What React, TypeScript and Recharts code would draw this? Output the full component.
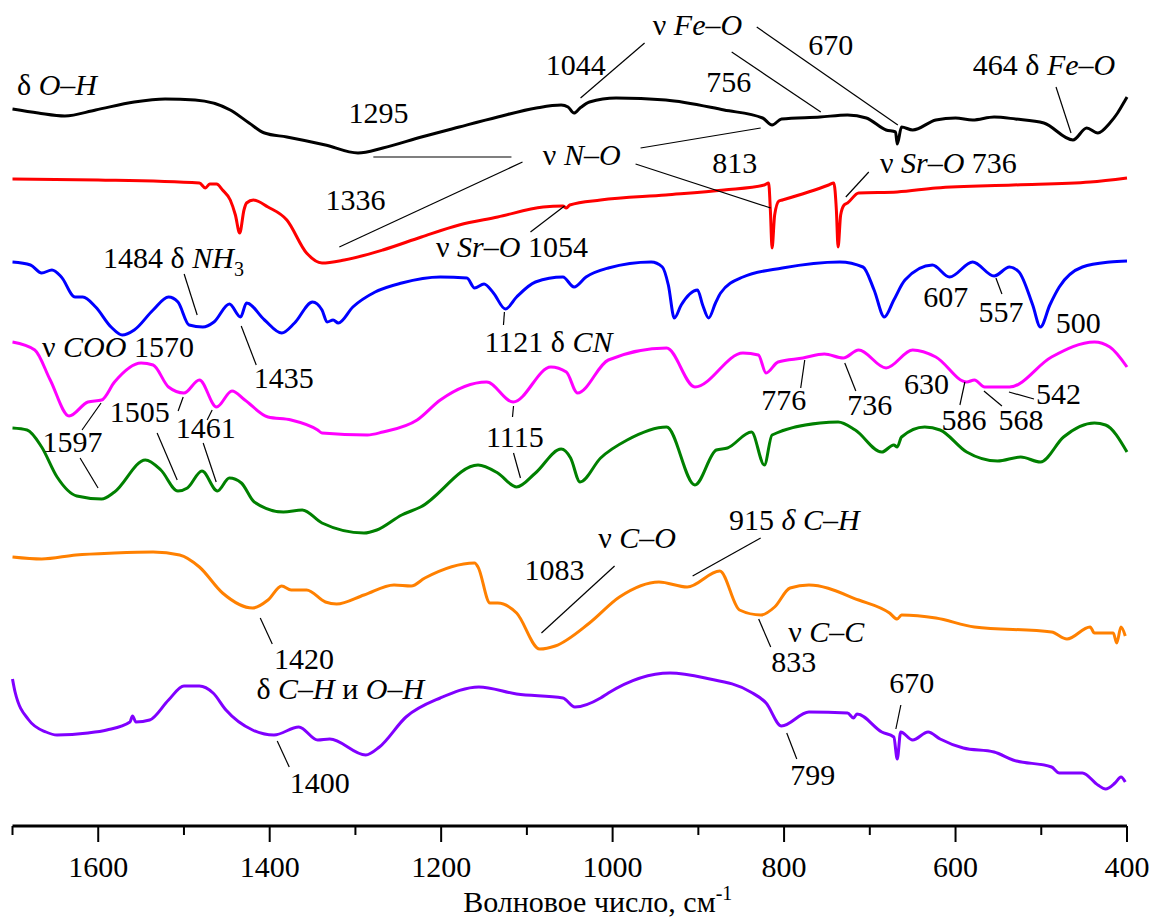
import React from 'react'
import { LineChart, Line, XAxis, YAxis, ReferenceLine, ReferenceDot, Label } from 'recharts'

const FONT = 'Liberation Serif, DejaVu Serif, Times New Roman, serif'

// spectra: [wavenumber cm-1, stacked signal (grows downward)]
const black = [
  [1700, 109], [1670, 113], [1639, 116], [1603, 110], [1558, 102], [1522, 99], [1487, 100],
  [1446, 110], [1424, 123], [1406, 133], [1380, 137], [1335, 145], [1297, 153], [1268, 148],
  [1223, 137], [1179, 127], [1134, 117], [1089, 108], [1060, 105], [1052, 107], [1045, 113],
  [1038, 108], [1027, 102], [996, 98], [938, 100], [870, 110], [825, 118], [814, 125],
  [803, 119], [758, 117], [726, 115], [704, 118], [681, 130], [670, 132], [668, 144],
  [663, 127], [650, 130], [623, 120], [600, 118], [580, 120], [555, 117], [530, 119],
  [497, 123], [463, 140], [447, 128], [434, 133], [420, 123], [411, 113], [402, 100], [400, 97],
]
const red = [
  [1700, 179], [1600, 180], [1482, 183], [1475, 188], [1470, 184], [1462, 184], [1455, 190],
  [1446, 200], [1440, 215], [1435, 233], [1430, 210], [1427, 203], [1419, 200], [1402, 207],
  [1380, 220], [1357, 253], [1339, 263], [1313, 260], [1268, 250], [1223, 237], [1179, 225],
  [1134, 217], [1081, 207], [1058, 206], [1054, 208], [1050, 205], [1014, 200], [938, 195],
  [870, 190], [823, 185], [818, 183], [816, 210], [814, 248], [811, 215], [806, 201],
  [802, 200], [748, 185], [742, 183], [739, 210], [737, 247], [734, 215], [730, 205],
  [726, 203], [713, 193], [668, 192], [623, 188], [533, 185], [443, 182], [400, 178],
]
const blue = [
  [1700, 262], [1679, 265], [1666, 273], [1654, 270], [1643, 277], [1627, 297], [1618, 297],
  [1603, 307], [1585, 327], [1572, 335], [1558, 330], [1536, 310], [1518, 297], [1507, 302],
  [1494, 325], [1478, 327], [1465, 322], [1447, 304], [1434, 317], [1427, 303], [1406, 320],
  [1386, 333], [1371, 323], [1350, 302], [1339, 310], [1333, 322], [1326, 320], [1320, 323],
  [1303, 307], [1277, 292], [1246, 283], [1201, 277], [1170, 278], [1161, 288], [1150, 284],
  [1139, 293], [1125, 309], [1112, 297], [1090, 282], [1058, 277], [1045, 287], [1031, 277],
  [1005, 268], [955, 262], [942, 267], [935, 285], [928, 318], [920, 305], [901, 290],
  [895, 305], [888, 318], [880, 303], [874, 293], [848, 277], [802, 268], [735, 262],
  [708, 267], [695, 290], [683, 317], [672, 300], [659, 280], [627, 265], [607, 277],
  [580, 262], [555, 276], [537, 267], [526, 272], [510, 305], [501, 327], [490, 305],
  [479, 287], [452, 267], [420, 262], [400, 261],
]
const magenta = [
  [1700, 342], [1674, 350], [1656, 380], [1634, 416], [1612, 402], [1596, 400], [1581, 382],
  [1550, 363], [1536, 365], [1518, 387], [1500, 393], [1482, 380], [1462, 407], [1444, 391],
  [1429, 400], [1402, 417], [1375, 420], [1344, 430], [1339, 433], [1286, 435], [1268, 432],
  [1228, 420], [1201, 400], [1147, 382], [1116, 402], [1072, 367], [1054, 372], [1041, 393],
  [1005, 360], [937, 348], [904, 387], [848, 353], [830, 355], [821, 373], [807, 362],
  [778, 358], [753, 354], [731, 358], [713, 350], [681, 368], [650, 350], [623, 357],
  [587, 382], [578, 380], [566, 387], [537, 387], [488, 357], [438, 342], [420, 347], [400, 367],
]
const green = [
  [1700, 428], [1683, 430], [1666, 447], [1648, 477], [1625, 496], [1596, 499], [1581, 492],
  [1545, 460], [1527, 470], [1507, 491], [1496, 488], [1479, 471], [1461, 491], [1447, 478],
  [1433, 483], [1418, 502], [1384, 512], [1362, 510], [1339, 523], [1290, 533], [1275, 530],
  [1246, 515], [1224, 507], [1157, 465], [1134, 473], [1112, 487], [1090, 473], [1060, 449],
  [1049, 458], [1038, 482], [1014, 458], [983, 440], [937, 427], [904, 485], [879, 450],
  [866, 448], [838, 432], [823, 465], [814, 435], [758, 423], [737, 422], [717, 430],
  [686, 452], [672, 445], [668, 447], [663, 437], [636, 427], [618, 430], [587, 452],
  [551, 461], [524, 457], [501, 462], [474, 437], [438, 423], [425, 425], [400, 452],
]
const orange = [
  [1700, 557], [1666, 559], [1626, 555], [1581, 553], [1536, 552], [1505, 555], [1482, 567],
  [1455, 593], [1420, 608], [1402, 600], [1386, 586], [1375, 590], [1357, 590], [1335, 602],
  [1322, 604], [1290, 595], [1255, 585], [1235, 586], [1219, 578], [1161, 563], [1157, 567],
  [1143, 603], [1134, 603], [1112, 613], [1085, 649], [1067, 646], [1027, 623], [992, 597],
  [946, 582], [913, 587], [875, 571], [852, 610], [827, 615], [811, 607], [793, 588],
  [771, 585], [713, 600], [677, 613], [668, 619], [663, 615], [623, 618], [578, 627],
  [488, 632], [470, 639], [443, 627], [438, 633], [416, 633], [412, 643], [407, 627], [402, 636],
]
const violet = [
  [1700, 679], [1697, 692], [1681, 720], [1661, 732], [1648, 735], [1612, 733], [1590, 730],
  [1563, 722], [1560, 716], [1556, 722], [1540, 720], [1518, 700], [1500, 686], [1482, 686],
  [1466, 693], [1451, 710], [1420, 730], [1395, 735], [1366, 727], [1344, 740], [1330, 739],
  [1288, 755], [1272, 747], [1241, 717], [1201, 698], [1156, 687], [1112, 694], [1058, 698],
  [1044, 707], [1014, 698], [1005, 693], [933, 673], [892, 678], [839, 692], [821, 703],
  [803, 726], [771, 712], [726, 713], [719, 718], [715, 714], [686, 732], [672, 737],
  [668, 759], [664, 732], [650, 740], [632, 732], [618, 739], [591, 748], [555, 752],
  [533, 760], [488, 767], [479, 773], [452, 773], [434, 785], [425, 789], [414, 783],
  [407, 777], [402, 782],
]

const SERIES = [
  { id: 'black', color: '#000000', points: black },
  { id: 'red', color: '#ff0000', points: red },
  { id: 'blue', color: '#0000ff', points: blue },
  { id: 'magenta', color: '#ff00ff', points: magenta },
  { id: 'green', color: '#008000', points: green },
  { id: 'orange', color: '#ff8000', points: orange },
  { id: 'violet', color: '#8000ff', points: violet },
]

const TICKS = [1700, 1600, 1500, 1400, 1300, 1200, 1100, 1000, 900, 800, 700, 600, 500, 400]

// band labels: text (*italic*, _sub), wavenumber, level, anchor
const LABELS: [string, number, number, string][] = [
  ['δ *O–H*', 1694.7, 95, 'start'],
  ['1295', 1273, 123, 'middle'],
  ['1044', 1043, 75, 'middle'],
  ['ν *Fe–O*', 901, 35, 'middle'],
  ['670', 745.5, 55, 'middle'],
  ['756', 864.6, 92, 'middle'],
  ['464 δ *Fe–O*', 496.8, 75, 'middle'],
  ['ν *N–O*', 1036, 165, 'middle'],
  ['813', 857.6, 173, 'middle'],
  ['ν *Sr–O* 736', 608.4, 173, 'middle'],
  ['1336', 1300, 210, 'middle'],
  ['ν *Sr–O* 1054', 1117.4, 257, 'middle'],
  ['1484 δ *NH*_3', 1594.3, 268, 'start'],
  ['1435', 1383.6, 388, 'middle'],
  ['1121 δ *CN*', 1149.5, 352, 'start'],
  ['607', 611.3, 307, 'middle'],
  ['557', 547, 322, 'middle'],
  ['500', 457, 333, 'middle'],
  ['ν *COO* 1570', 1665.6, 357, 'start'],
  ['1505', 1551.7, 422, 'middle'],
  ['1461', 1474.7, 438, 'middle'],
  ['1597', 1630, 452, 'middle'],
  ['1115', 1114, 447, 'middle'],
  ['776', 800.4, 410, 'middle'],
  ['736', 700, 415, 'middle'],
  ['630', 634, 394, 'middle'],
  ['542', 480, 404, 'middle'],
  ['586', 590, 430, 'middle'],
  ['568', 523.7, 430, 'middle'],
  ['1083', 1067.8, 580, 'middle'],
  ['ν *C–O*', 971.5, 548, 'middle'],
  ['915 *δ C–H*', 788, 530, 'middle'],
  ['1420', 1360, 669, 'middle'],
  ['ν *C–C*', 750.8, 642, 'middle'],
  ['833', 788.7, 672, 'middle'],
  ['δ *C–H* и *O–H*', 1317.6, 699, 'middle'],
  ['1400', 1341.6, 793, 'middle'],
  ['799', 766.5, 785, 'middle'],
  ['670', 651, 693, 'middle'],
]

// leader lines: w1, level1, w2, level2
const LEADERS = [
  [962.7, 43, 1037.4, 98], [861.1, 52, 757.2, 112], [831.9, 27, 667.3, 125],
  [482.8, 87, 465.3, 133], [1279.1, 157, 1118, 157], [1105.1, 162, 1318.8, 247],
  [967.4, 148, 827.3, 128], [973.2, 164, 815.6, 208], [701.2, 172, 728, 197],
  [1095.8, 232, 1056.1, 206], [1499.8, 274, 1484.6, 315], [1433.2, 326, 1415.7, 365],
  [1126.2, 312, 1127.3, 325], [552.9, 278, 545.9, 294], [1596.7, 403, 1618.9, 430],
  [1621.2, 458, 1600.2, 488], [1500.9, 397, 1506.8, 411], [1531.3, 433, 1507.9, 480],
  [1467.1, 410, 1472.9, 420], [1477.6, 443, 1462.4, 482], [1115.6, 406, 1116.8, 417],
  [1115.6, 453, 1107.5, 478], [775.9, 360, 780.6, 388], [729.2, 363, 716.3, 391],
  [589.1, 382, 594.9, 405], [566.9, 391, 545.9, 406], [537.7, 392, 508.5, 399],
  [997.7, 566, 1083, 633], [827.3, 538, 906.7, 576], [829.6, 619, 815.6, 647],
  [1411, 618, 1397, 644], [1391.2, 741, 1377.2, 767], [796.9, 733, 785.2, 759],
  [663.8, 705, 669.6, 729],
]

const rich = (s: string) => {
  const out: React.ReactNode[] = []
  s.split('*').forEach((part, i) => {
    const [main, sub] = part.split('_')
    if (main) out.push(<tspan key={`m${i}`} fontStyle={i % 2 ? 'italic' : 'normal'}>{main}</tspan>)
    if (sub) out.push(<tspan key={`s${i}`} fontSize={20} dy={8}>{sub}</tspan>)
  })
  return out
}

const textStyle = { fontFamily: FONT, fontSize: 30, fill: '#000' }

const WaveTick = (props: any) => {
  const { x, y, payload } = props
  const major = payload.value % 200 === 0
  return (
    <g>
      <line x1={x} x2={x} y1={y} y2={y + (major ? 16 : 9)} stroke="#000" strokeWidth={2} />
      {major && (
        <text x={x} y={y + 51} textAnchor="middle" style={textStyle}>
          {payload.value}
        </text>
      )}
    </g>
  )
}

const renderTitle = (p: any) => {
  const vb = p.viewBox
  return (
    <text x={vb.x + vb.width / 2 + 28} y={vb.y + 86} textAnchor="middle" style={textStyle}>
      Волновое число, см<tspan dy={-12} style={{ fontSize: 20 }}>-1</tspan>
    </text>
  )
}

const App = () => {
  return (
    <div style={{ position: 'absolute', left: 0, top: 0 }}>
      <LineChart width={1154} height={917} margin={{ top: 0, right: 27, left: 12.5, bottom: 0 }}>
        <XAxis
          dataKey="w"
          type="number"
          domain={[400, 1700]}
          reversed
          ticks={TICKS}
          interval={0}
          height={91}
          tickSize={0}
          tickMargin={0}
          tickLine={false}
          axisLine={{ stroke: '#000', strokeWidth: 3 }}
          tick={<WaveTick />}
        >
          <Label content={renderTitle} />
        </XAxis>
        <YAxis hide type="number" domain={[0, 826]} reversed allowDataOverflow />
        {SERIES.map(s => (
          <Line
            key={s.id}
            data={s.points.map(([w, a]) => ({ w, a }))}
            dataKey="a"
            type="monotone"
            stroke={s.color}
            strokeWidth={3}
            dot={false}
            isAnimationActive={false}
          />
        ))}
        {LEADERS.map(([w1, a1, w2, a2], i) => (
          <ReferenceLine
            key={`l${i}`}
            segment={[{ x: w1, y: a1 }, { x: w2, y: a2 }]}
            stroke="#000"
            strokeWidth={1.2}
            ifOverflow="visible"
          />
        ))}
        {LABELS.map(([t, w, a, anchor], i) => (
          <ReferenceDot
            key={`t${i}`}
            x={w}
            y={a}
            r={1}
            ifOverflow="visible"
            shape={(p: any) => (
              <text x={p.cx} y={p.cy} textAnchor={anchor} style={textStyle}>
                {rich(t)}
              </text>
            )}
          />
        ))}
      </LineChart>
    </div>
  )
}

export default App
